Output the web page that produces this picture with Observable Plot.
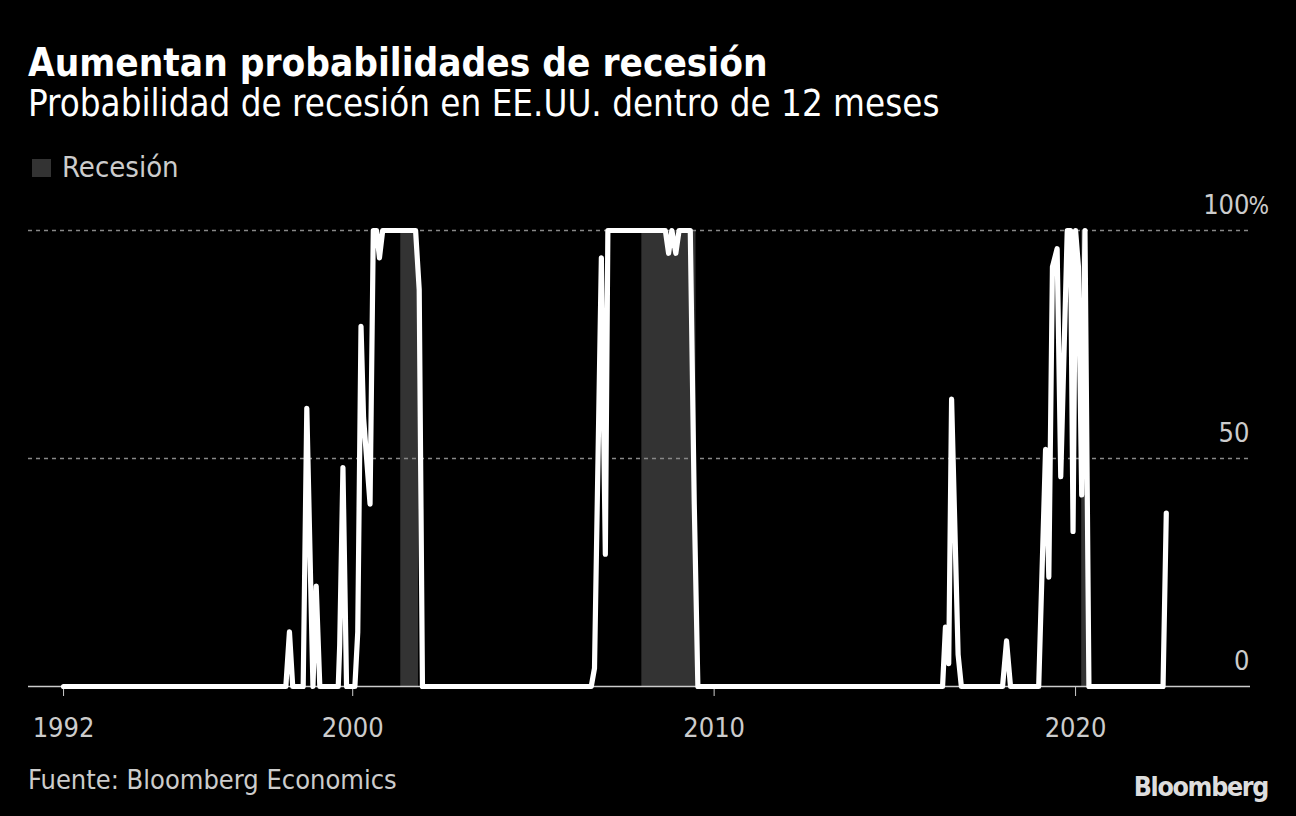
<!DOCTYPE html>
<html><head><meta charset="utf-8">
<script src="https://cdn.jsdelivr.net/npm/d3@7"></script>
<script src="https://cdn.jsdelivr.net/npm/@observablehq/plot@0.6"></script>
<style>
html,body{margin:0;padding:0;background:#000;}
body{width:1296px;height:816px;position:relative;overflow:hidden;font-family:"DejaVu Sans Condensed","DejaVu Sans",sans-serif;font-stretch:condensed;}
.t{position:absolute;left:28px;white-space:nowrap;line-height:1;}
#title{top:44px;font-size:38.4px;font-weight:bold;color:#fff;}
#subtitle{top:86px;font-size:36.4px;color:#fff;}
#legend{top:153px;left:32px;font-size:29px;color:#ccc;display:flex;align-items:center;}
#legend .sw{width:19px;height:18px;background:#333;margin-right:11px;}
#chart{position:absolute;left:0;top:190px;}
#source{top:766px;font-size:27px;color:#ccc;}
#logo{position:absolute;right:28px;top:774px;font-size:26.5px;font-weight:bold;color:#ddd;letter-spacing:-1.3px;line-height:1;}
</style>
</head><body>
<div class="t" id="title">Aumentan probabilidades de recesión</div>
<div class="t" id="subtitle">Probabilidad de recesión en EE.UU. dentro de 12 meses</div>
<div class="t" id="legend"><span class="sw"></span><span>Recesión</span></div>
<div id="chart"></div>
<div class="t" id="source">Fuente: Bloomberg Economics</div>
<div id="logo">Bloomberg</div>
<script>
// Probability series (decimal year, percent)
const years = [1992.00, 1998.15, 1998.25, 1998.34, 1998.63, 1998.73, 1998.90, 1998.99, 1999.09,
  1999.60, 1999.64, 1999.73, 1999.83, 2000.06, 2000.14, 2000.23, 2000.30, 2000.48, 2000.57,
  2000.66, 2000.74, 2000.83, 2001.74, 2001.84, 2001.93,
  2006.60, 2006.69, 2006.88, 2006.99, 2007.06, 2008.65, 2008.74, 2008.83, 2008.94, 2009.03,
  2009.34, 2009.45, 2009.55,
  2016.32, 2016.40, 2016.49, 2016.57, 2016.75, 2016.84, 2017.98, 2018.09, 2018.20,
  2018.98, 2019.17, 2019.26, 2019.36, 2019.49, 2019.59, 2019.77, 2019.86, 2019.93, 2020.00,
  2020.08, 2020.17, 2020.26, 2020.37, 2022.42, 2022.51];
const probs = [0, 0, 12, 0, 0, 61, 0, 22, 0,
  0, 9, 48, 0, 0, 12, 79, 59, 40, 100,
  100, 94, 100, 100, 87, 0,
  0, 4, 94, 29, 100, 100, 95, 100, 95, 100,
  100, 40, 0,
  0, 13, 5, 63, 7, 0, 0, 10, 0,
  0, 52, 24, 92, 96, 46, 100, 100, 34, 100,
  92, 42, 100, 0, 0, 38];
// Recession periods
const recStart = [2001.33, 2008.0, 2020.17];
const recEnd = [2001.82, 2009.5, 2020.33];
// Ticks
const xTicks = [1992, 2000, 2010, 2020];
const yTicks = [0, 50, 100];
const gridTicks = [50, 100];

const series = years.map((x, i) => ({x, y: probs[i]}));
const rec = recStart.map((s, i) => ({x1: s, x2: recEnd[i]}));
const FONT = '"DejaVu Sans Condensed","DejaVu Sans",sans-serif';

const chart = Plot.plot({
  width: 1296, height: 570,
  marginTop: 40, marginBottom: 74, marginLeft: 28, marginRight: 46,
  x: {domain: [1991.03, 2024.84]},
  y: {domain: [0, 100], axis: null},
  style: {background: "#000", color: "#ccc", fontFamily: FONT, fontSize: "27px", fontStretch: "condensed"},
  marks: [
    Plot.rect(rec, {x1: "x1", x2: "x2", y1: 0, y2: 100, fill: "#333"}),
    Plot.ruleY(gridTicks, {stroke: "#888", strokeDasharray: "4,4", strokeWidth: 1.6}),
    Plot.ruleY([0], {stroke: "#ccc", strokeWidth: 1.5}),
    Plot.axisX({ticks: xTicks, tickFormat: d3.format("d"), tickSize: 10, tickPadding: 21, fontSize: 27, color: "#ccc"}),
    Plot.text(yTicks, {y: d => d, text: d => String(d), frameAnchor: "right", textAnchor: "end", lineAnchor: "bottom", dy: -17, dx: -1, fill: "#ccc", fontSize: 27}),
    Plot.text([100], {y: d => d, text: () => "%", frameAnchor: "right", textAnchor: "start", lineAnchor: "bottom", dy: -17, dx: -2, fill: "#ccc", fontSize: 24}),
    Plot.line(series, {x: "x", y: "y", stroke: "#fff", strokeWidth: 5.2, strokeLinejoin: "round", strokeLinecap: "round"})
  ]
});
document.getElementById("chart").appendChild(chart);
</script>
</body></html>
